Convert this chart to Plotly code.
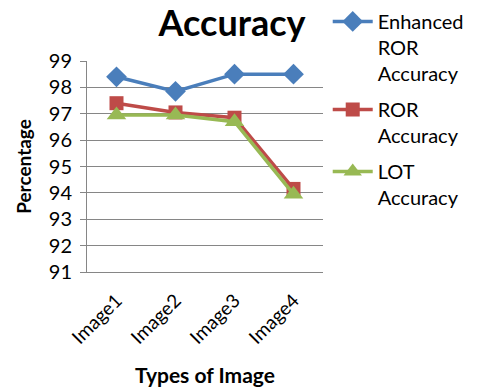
import plotly.graph_objects as go

categories = ["Image1", "Image2", "Image3", "Image4"]
enhanced_ror = [98.4, 97.85, 98.5, 98.5]
ror = [97.4, 97.05, 96.85, 94.15]
lot = [96.95, 96.95, 96.7, 93.95]
y_ticks = [91, 92, 93, 94, 95, 96, 97, 98, 99]

FONT = "Lato"
# page body has an 8px margin; the figure is sized to fit the 477x387 window
W, H = 469, 379

fig = go.Figure()
fig.add_trace(go.Scatter(x=categories, y=enhanced_ror, mode="lines+markers",
                         name="Enhanced<br>ROR<br>Accuracy", legendgroup="a",
                         line=dict(color="#4A7EBB", width=3.5),
                         marker=dict(symbol="diamond", size=16, color="#4A7EBB")))
fig.add_trace(go.Scatter(x=categories, y=ror, mode="lines+markers",
                         name="ROR<br>Accuracy", legendgroup="b",
                         line=dict(color="#BE4B48", width=3.5),
                         marker=dict(symbol="square", size=14, color="#BE4B48")))
fig.add_trace(go.Scatter(x=categories, y=lot, mode="lines+markers",
                         name="LOT<br>Accuracy", legendgroup="c",
                         line=dict(color="#98B954", width=3.5),
                         marker=dict(symbol="triangle-up", size=17, color="#98B954")))

fig.update_layout(
    width=W, height=H,
    margin=dict(l=79, r=154, t=53, b=115, autoexpand=False),
    paper_bgcolor="white", plot_bgcolor="white",
    font=dict(family=FONT, size=18, color="black"),
    title=dict(text="<b>Accuracy</b>", font=dict(family=FONT, size=36, color="black"),
               x=224/W, xanchor="center", y=1 - 15/H, yanchor="middle"),
    showlegend=True,
    legend=dict(x=1.02, y=1.28, xanchor="left", yanchor="top",
                font=dict(family=FONT, size=20, color="black"),
                valign="top", tracegroupgap=7, itemwidth=40, maxheight=360,
                bgcolor="rgba(0,0,0,0)"),
)
fig.update_xaxes(
    type="category", categoryorder="array", categoryarray=categories,
    tickangle=-45, showgrid=False, showline=True, linecolor="#868686", linewidth=1,
    ticks="", tickfont=dict(family=FONT, size=19, color="black"), automargin=False,
    ticklabelstandoff=9,
    title=dict(text="<b>Types of Image</b>", font=dict(family=FONT, size=21, color="black"), standoff=22),
    range=[-0.5, 3.5],
)
fig.update_yaxes(
    range=[91, 99], tickvals=y_ticks, ticktext=[str(v) for v in y_ticks],
    showgrid=True, gridcolor="#868686", gridwidth=1,
    showline=True, linecolor="#868686", linewidth=1,
    ticks="outside", ticklen=6, tickcolor="#868686", automargin=False,
    ticklabelstandoff=4,
    tickfont=dict(family=FONT, size=20, color="black"),
    title=dict(text="<b>Percentage</b>", font=dict(family=FONT, size=19, color="black"), standoff=12),
    zeroline=False,
)

fig.write_html("out.html")
